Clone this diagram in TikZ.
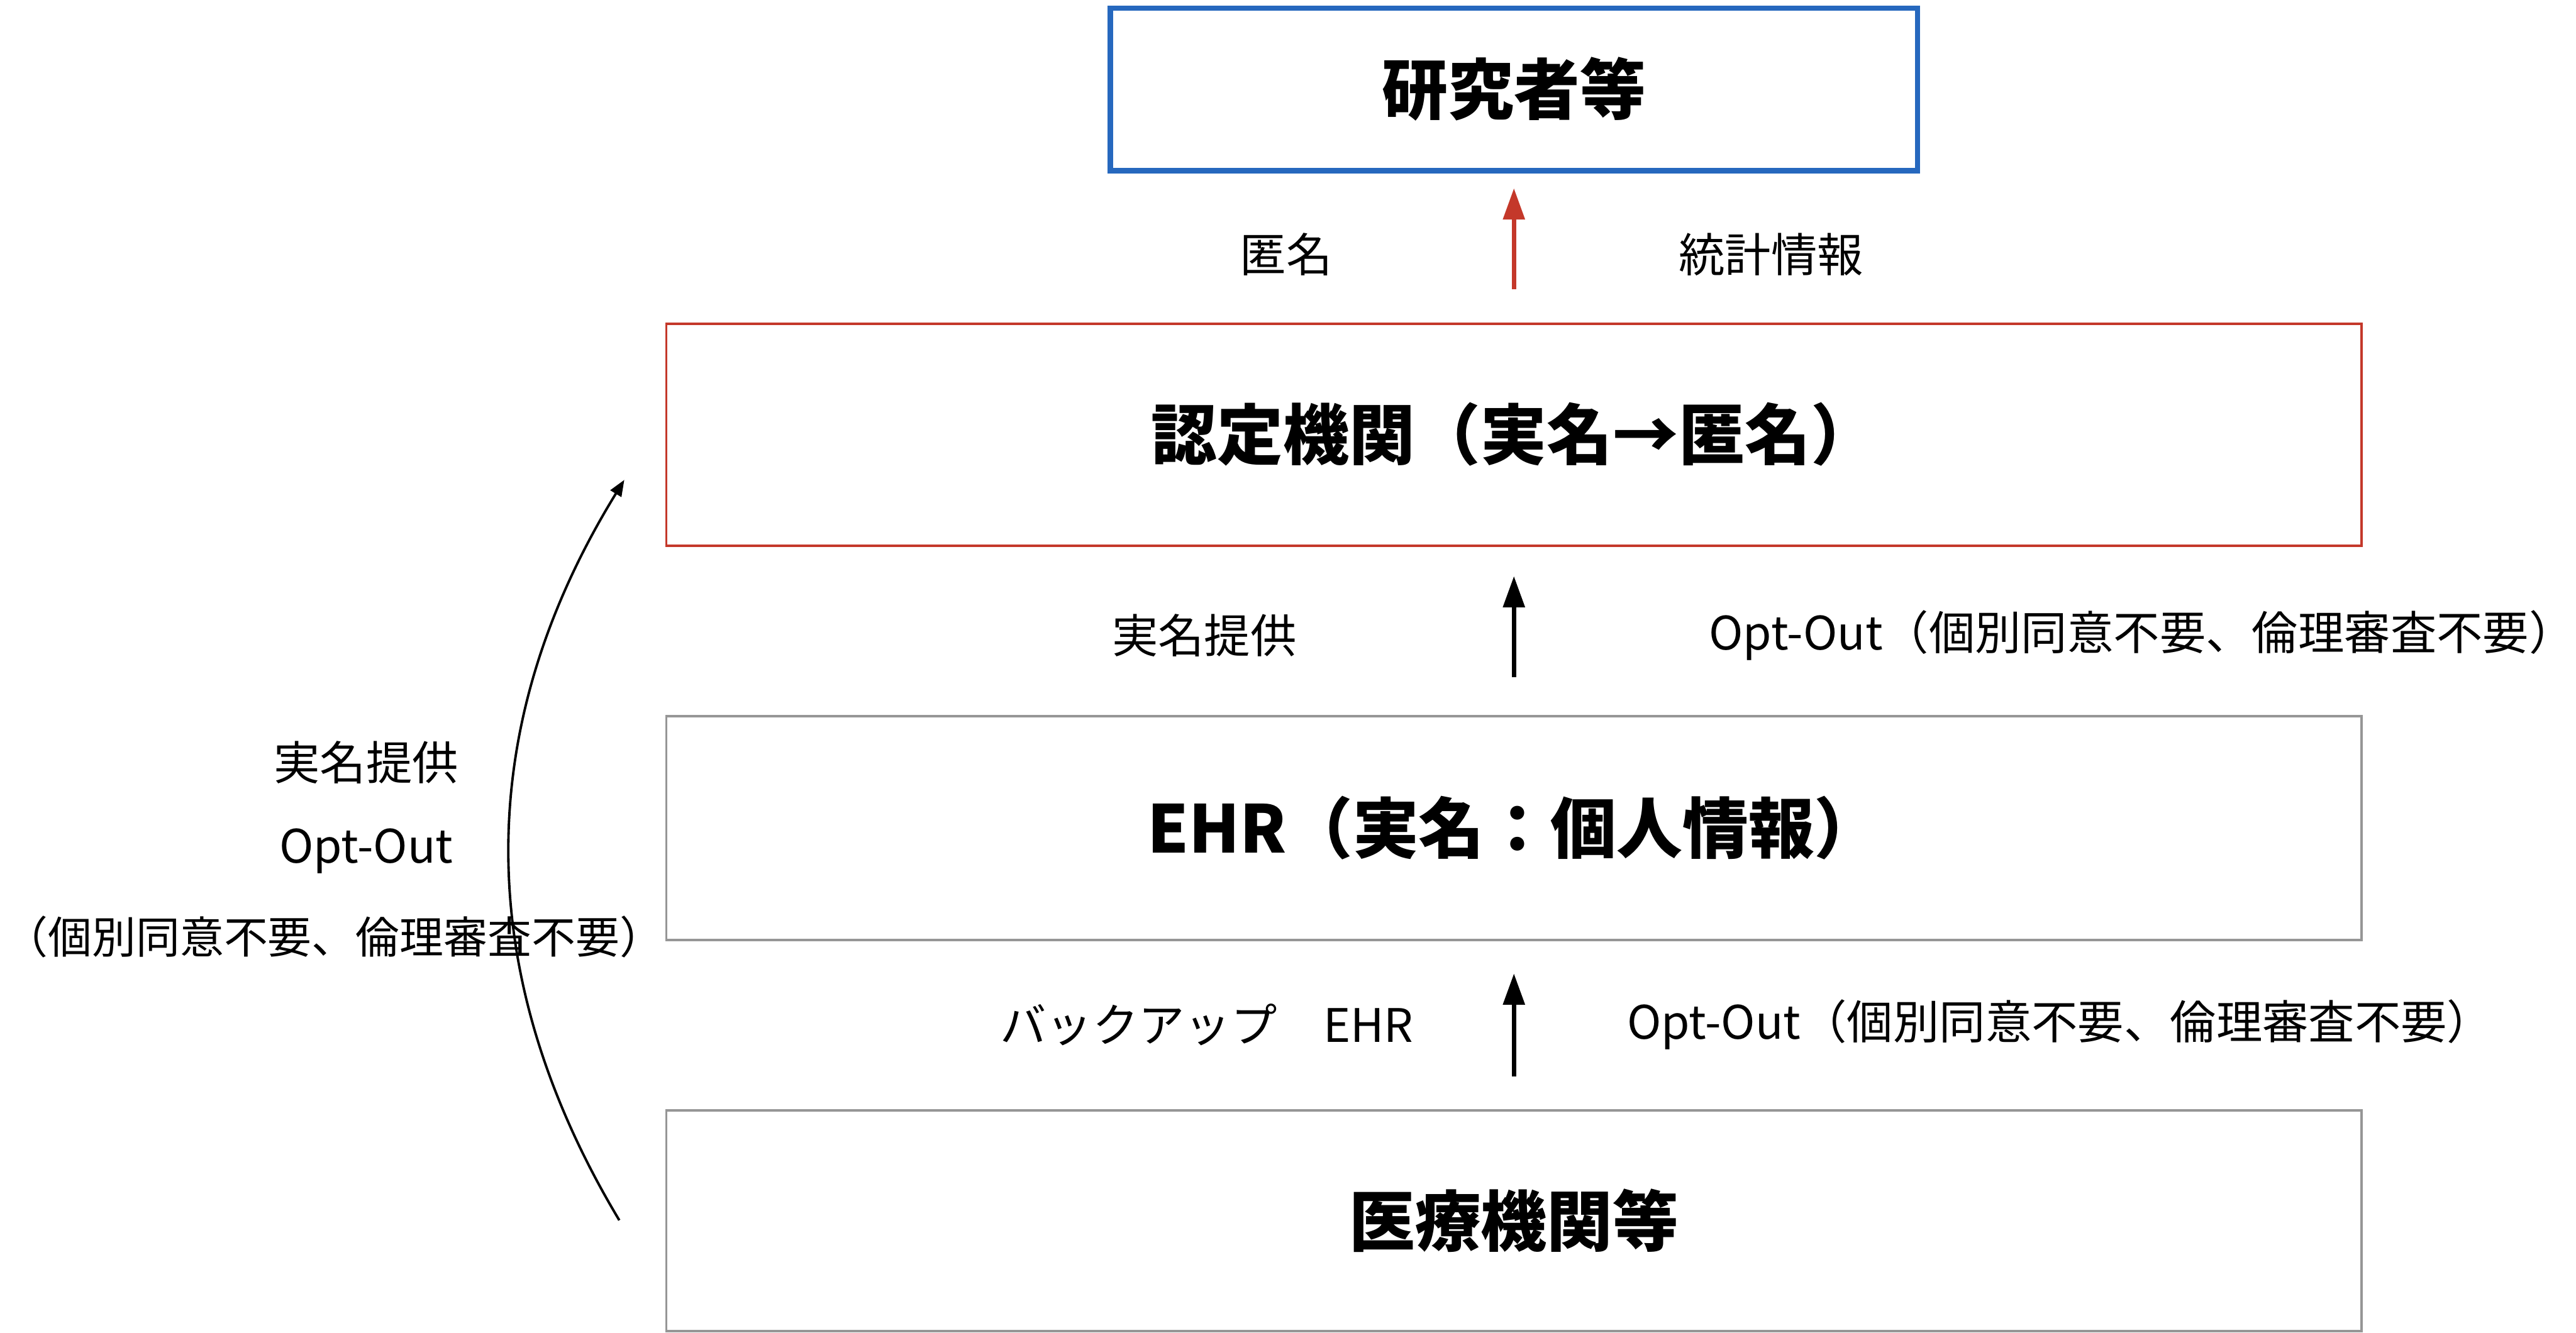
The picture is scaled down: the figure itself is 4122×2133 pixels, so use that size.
\documentclass[tikz,border=0pt]{standalone}
\usepackage{fontspec}
\setmainfont{Noto Sans CJK JP}
\usetikzlibrary{arrows.meta}
\definecolor{boxblue}{RGB}{38,104,190}
\definecolor{boxred}{RGB}{196,56,42}
\definecolor{boxgray}{RGB}{150,150,150}
\tikzset{
  titlebox/.style={rectangle, inner sep=0pt, minimum width=27.11cm, font=\fontsize{30}{36}\selectfont\bfseries},
  lbl/.style={inner sep=0pt, font=\fontsize{21}{26}\selectfont},
  uparrow/.style={line width=1.9pt, -{Triangle[length=0.5cm,width=0.34cm]}},
  sidearrow/.style={line width=1.1pt, -{Triangle[length=0.26cm,width=0.2cm]}}
}
\begin{document}
\begin{tikzpicture}[x=0.01cm,y=-0.01cm]
\useasboundingbox (0,0) rectangle (4122,2133);
% boxes
\node[titlebox, draw=boxblue, line width=2.4pt, minimum width=12.91cm, minimum height=2.60cm] (res) at (2422.5,143) {研究者等};
\node[titlebox, draw=boxred, line width=1.1pt, minimum height=3.55cm] (cert) at (2422.5,695.5) {認定機関（実名→匿名）};
\node[titlebox, draw=boxgray, line width=1.1pt, minimum height=3.58cm] (ehr) at (2422.5,1325) {EHR（実名：個人情報）};
\node[titlebox, draw=boxgray, line width=1.1pt, minimum height=3.53cm] (med) at (2422.5,1953.5) {医療機関等};
% vertical arrows
\draw[uparrow, boxred, shorten <=0.53cm, shorten >=0.24cm] (cert.north) -- (res.south);
\draw[uparrow, black, shorten <=0.60cm, shorten >=0.47cm] (ehr.north) -- (cert.south);
\draw[uparrow, black, shorten <=0.52cm, shorten >=0.52cm] (med.north) -- (ehr.south);
% labels
\node[lbl] (l1) at (2058,407) {匿名};
\node[lbl] (l2) at (2834,407) {統計情報};
\node[lbl] (l3) at (1927,1017) {実名提供};
\node[lbl, anchor=west] (l4) at (2734,1017) {Opt-Out（個別同意不要、倫理審査不要）};
\node[lbl] (l5) at (1931,1640) {バックアップ　EHR};
\node[lbl, anchor=west] (l6) at (2603,1640) {Opt-Out（個別同意不要、倫理審査不要）};
\node[lbl] (l7) at (586,1220) {実名提供};
\node[lbl] (l8) at (586,1362) {Opt-Out};
\node[lbl, anchor=west, font=\fontsize{20}{24}\selectfont] (l9) at (6,1499) {（個別同意不要、倫理審査不要）};
% side curved arrow
\coordinate (cs) at (991,1953);
\coordinate (ce) at (999,768);
\draw[sidearrow] (cs) .. controls (754,1558) and (756,1163) .. (ce);
\end{tikzpicture}
\end{document}
